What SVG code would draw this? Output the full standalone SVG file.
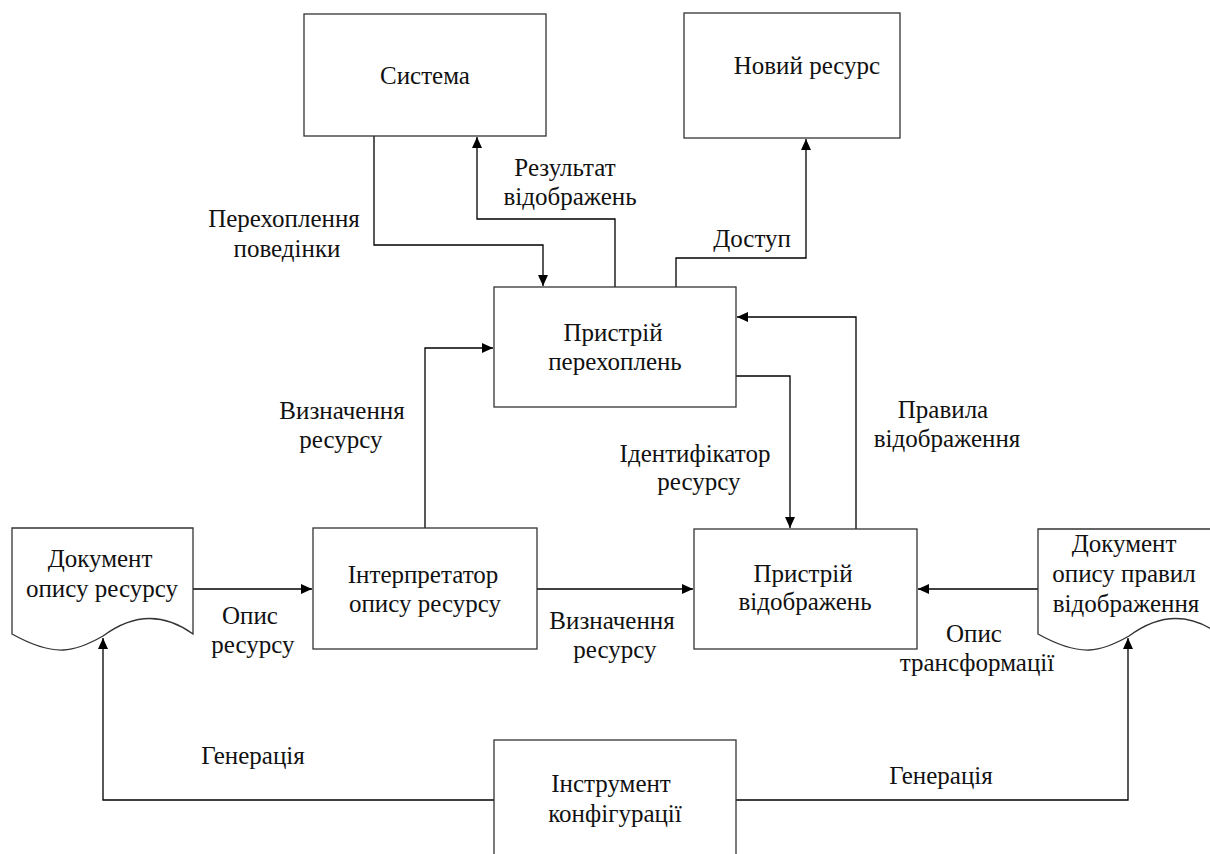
<svg xmlns="http://www.w3.org/2000/svg" width="1210" height="854" viewBox="0 0 1210 854">
<style>
.box{fill:#fff;stroke:#333;stroke-width:1.3}
.ln{fill:none;stroke:#000;stroke-width:1.3}
text{font-family:"Liberation Serif","Times New Roman",serif;font-size:25px;fill:#111;text-anchor:middle}
</style>
<defs>
<marker id="ah" markerUnits="userSpaceOnUse" markerWidth="12" markerHeight="11" refX="11" refY="5" orient="auto">
<path d="M0,0 L11,5 L0,10 z" fill="#000"/>
</marker>
</defs>
<rect width="1210" height="854" fill="#fff"/>
<g id="connectors">
<path class="ln" d="M374,136 V245 H543 V286" marker-end="url(#ah)"/>
<path class="ln" d="M615,287 V219 H477 V137" marker-end="url(#ah)"/>
<path class="ln" d="M676,287 V258 H806 V139" marker-end="url(#ah)"/>
<path class="ln" d="M425,528 V348 H493" marker-end="url(#ah)"/>
<path class="ln" d="M736,376 H790 V528" marker-end="url(#ah)"/>
<path class="ln" d="M856,529 V317 H737" marker-end="url(#ah)"/>
<path class="ln" d="M193,589 H312" marker-end="url(#ah)"/>
<path class="ln" d="M537,589 H693" marker-end="url(#ah)"/>
<path class="ln" d="M1038,589 H918" marker-end="url(#ah)"/>
<path class="ln" d="M494,800 H103 V638" marker-end="url(#ah)"/>
<path class="ln" d="M736,800 H1128 V638" marker-end="url(#ah)"/>
<text x="284" y="227">Перехоплення</text>
<text x="287" y="257">поведінки</text>
<text x="565" y="176">Результат</text>
<text x="570" y="205">відображень</text>
<text x="752" y="247">Доступ</text>
<text x="342" y="419">Визначення</text>
<text x="341" y="448">ресурсу</text>
<text x="695" y="462">Ідентифікатор</text>
<text x="699" y="490">ресурсу</text>
<text x="943" y="418">Правила</text>
<text x="947" y="447">відображення</text>
<text x="250" y="624">Опис</text>
<text x="253" y="653">ресурсу</text>
<text x="612" y="629">Визначення</text>
<text x="615" y="658">ресурсу</text>
<text x="974" y="642">Опис</text>
<text x="977" y="671">трансформації</text>
<text x="253" y="764">Генерація</text>
<text x="941" y="784">Генерація</text>
</g>
<g id="n-systema">
<rect class="box" x="304" y="14" width="242" height="122"/>
<text x="425" y="84">Система</text>
</g>
<g id="n-novyi">
<rect class="box" x="684" y="13" width="216" height="125"/>
<text x="807" y="74">Новий ресурс</text>
</g>
<g id="n-perekhoplen">
<rect class="box" x="494" y="287" width="242" height="120"/>
<text x="613" y="341">Пристрій</text>
<text x="615" y="370">перехоплень</text>
</g>
<g id="n-interpretator">
<rect class="box" x="313" y="528" width="224" height="121"/>
<text x="423" y="583">Інтерпретатор</text>
<text x="425" y="612">опису ресурсу</text>
</g>
<g id="n-vidobrazhen">
<rect class="box" x="694" y="529" width="223" height="120"/>
<text x="803" y="582">Пристрій</text>
<text x="805" y="610">відображень</text>
</g>
<g id="n-doc-resurs">
<path class="box" d="M12,528 H193 V634 C160,610 130,616 103,636 C75,652 55,658 12,634 Z"/>
<text x="100" y="567">Документ</text>
<text x="102" y="597">опису ресурсу</text>
</g>
<g id="n-doc-pravyl">
<path class="box" d="M1038,529 H1219 V634 C1186,610 1156,616 1129,636 C1101,652 1081,658 1038,634 Z"/>
<text x="1124" y="552">Документ</text>
<text x="1124" y="582">опису правил</text>
<text x="1126" y="612">відображення</text>
</g>
<g id="n-instrument">
<rect class="box" x="494" y="740" width="242" height="125"/>
<text x="611" y="792">Інструмент</text>
<text x="615" y="822">конфігурації</text>
</g>
</svg>
